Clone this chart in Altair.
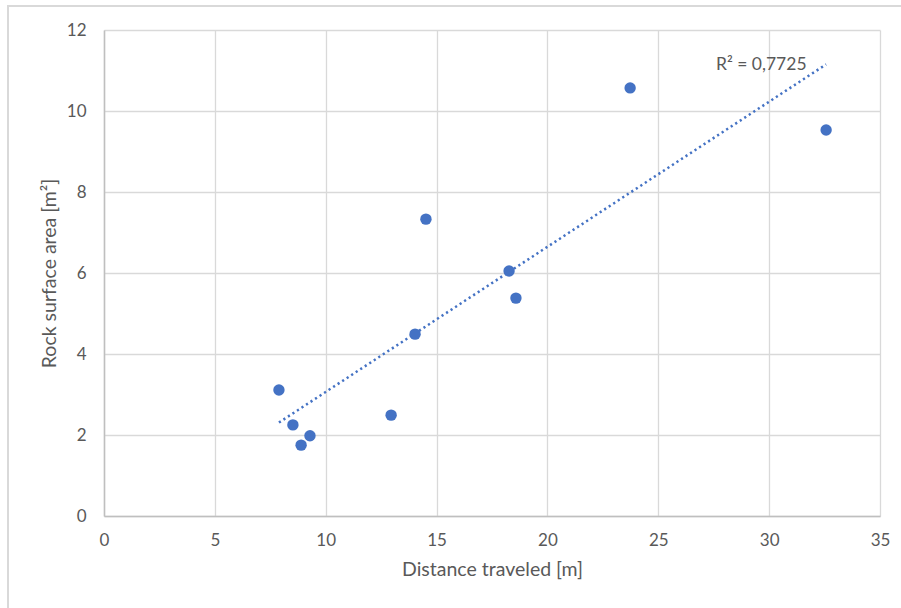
import altair as alt
import pandas as pd

# Measured samples
distance = [7.89, 8.52, 8.89, 9.29, 12.95, 14.03, 14.52, 18.27, 18.58, 23.73, 32.57]
area = [3.11, 2.25, 1.75, 1.98, 2.49, 4.49, 7.33, 6.05, 5.38, 10.57, 9.53]
r2_label = "R² = 0,7725"

df = pd.DataFrame({"distance": distance, "area": area})

FONT = "Lato"
TEXT = "#595959"
BLUE = "#4472C4"

x_enc = alt.X(
    "distance:Q",
    scale=alt.Scale(domain=[0, 35], nice=False),
    axis=alt.Axis(
        values=[0, 5, 10, 15, 20, 25, 30, 35],
        title="Distance traveled [m]",
        titlePadding=12,
        labelPadding=16,
        labelFlush=False,
    ),
)
y_enc = alt.Y(
    "area:Q",
    scale=alt.Scale(domain=[0, 12], nice=False),
    axis=alt.Axis(
        values=[0, 2, 4, 6, 8, 10, 12],
        title="Rock surface area [m²]",
        titlePadding=7,
        labelPadding=18,
        labelFlush=False,
    ),
)

# Outer frame: only its top and left edges fall inside the page
frame = alt.Chart(df).mark_rect(
    fill=None, stroke="#d9d9d9", strokeWidth=2
).encode(
    x=alt.value(-96), x2=alt.value(820), y=alt.value(-24), y2=alt.value(600)
)

points = alt.Chart(df).mark_circle(size=130, color=BLUE, opacity=1).encode(
    x=x_enc, y=y_enc
)

trend = (
    alt.Chart(df)
    .transform_regression("distance", "area", method="linear", extent=[min(distance), max(distance)])
    .mark_line(color=BLUE, strokeWidth=2.5, strokeDash=[2.2, 3.2], strokeCap="butt")
    .encode(x="distance:Q", y="area:Q")
)

label = alt.Chart(pd.DataFrame({"x": [27.6], "y": [11.14], "t": [r2_label]})).mark_text(
    align="left", baseline="middle", font=FONT, fontSize=17.5, color=TEXT
).encode(x="x:Q", y="y:Q", text="t:N")

chart = (
    alt.layer(frame, trend, points, label)
    .properties(
        width=776,
        height=486,
        autosize=alt.AutoSizeParams(type="none"),
        padding={"left": 104, "top": 30, "right": 21, "bottom": 92},
        background="white",
    )
    .configure_view(stroke=None)
    .configure_axis(
        grid=True,
        gridColor="#d9d9d9",
        gridWidth=1.3,
        domainColor="#bfbfbf",
        domainWidth=1.5,
        ticks=False,
        labelFont=FONT,
        labelFontSize=17,
        labelColor=TEXT,
        titleFont=FONT,
        titleFontSize=19.5,
        titleFontWeight="normal",
        titleColor=TEXT,
    )
)

chart.save("out.html", embed_options={"renderer": "svg", "actions": False})
